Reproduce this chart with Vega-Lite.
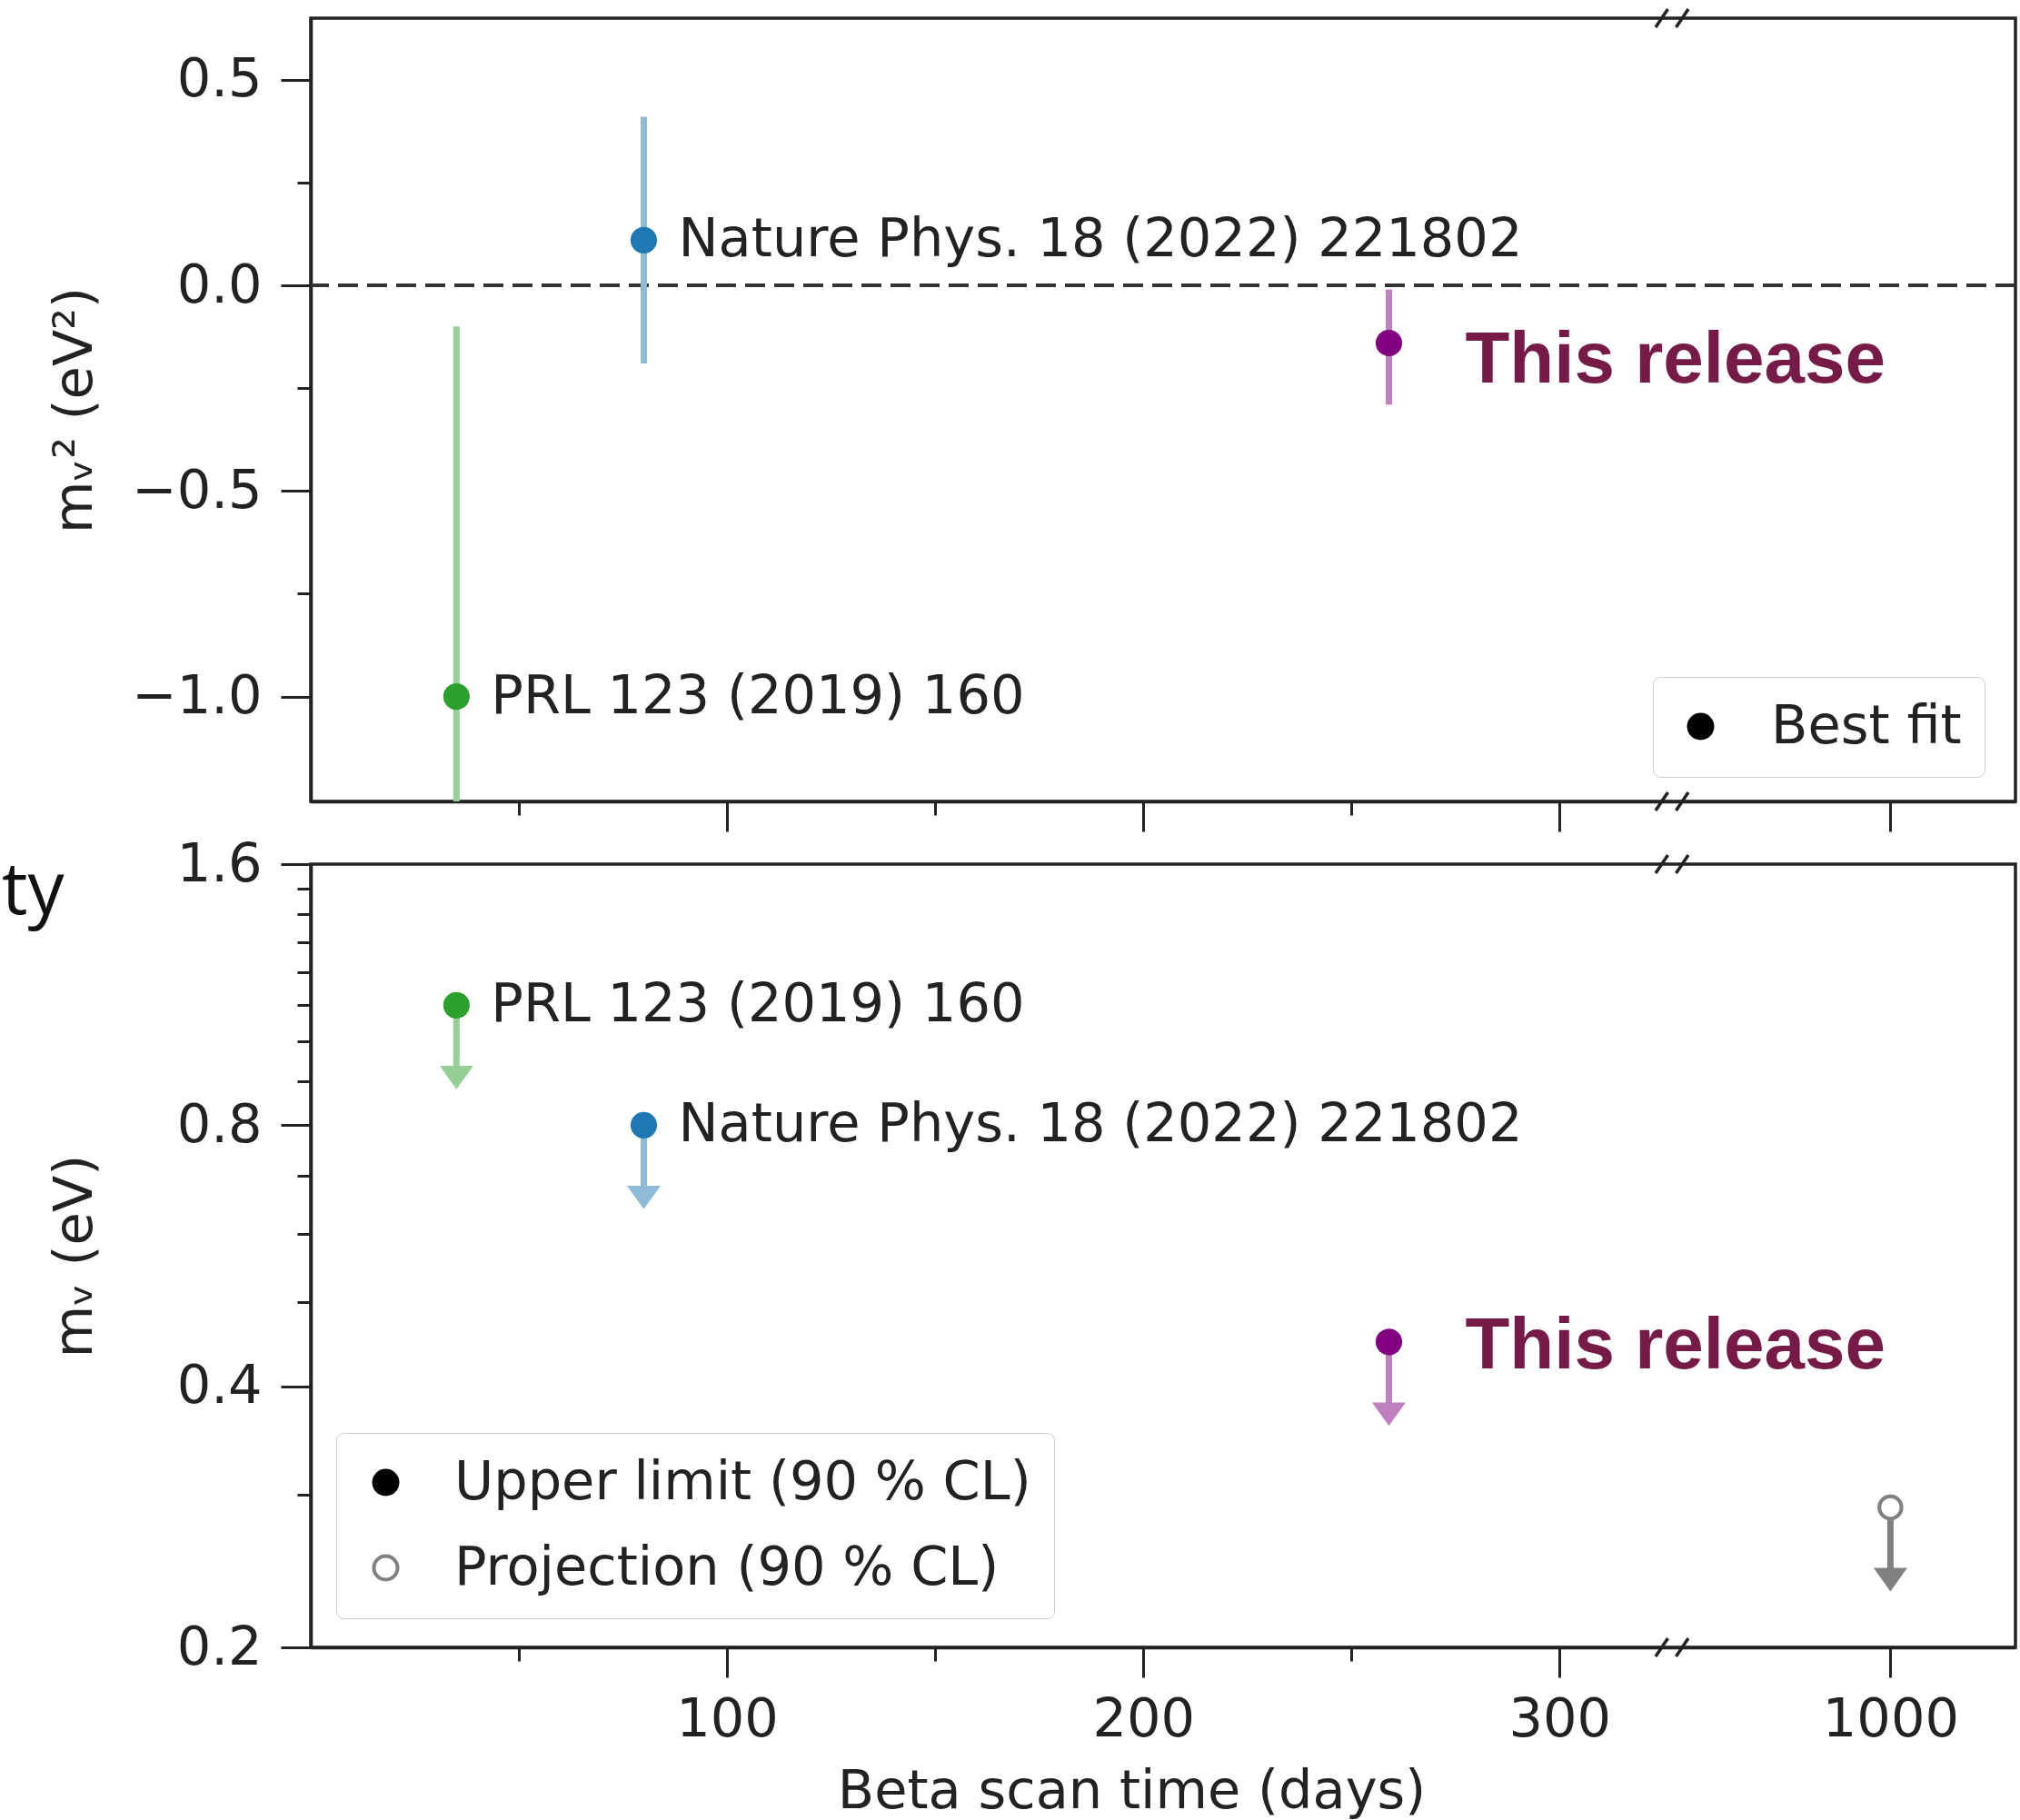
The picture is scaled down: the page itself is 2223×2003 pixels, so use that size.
{
  "$schema": "https://vega.github.io/schema/vega-lite/v6.json",
  "background": "white",
  "padding": {"left": 0, "top": 1, "right": 0, "bottom": 0},
  "bounds": "flush",
  "spacing": 69,
  "config": {
    "view": {"stroke": "#222222", "strokeWidth": 3.5},
    "font": "DejaVu Sans",
    "axis": {
      "grid": false,
      "domainColor": "#222222",
      "domainWidth": 3.5,
      "tickColor": "#222222",
      "tickWidth": 3,
      "labelFont": "DejaVu Sans",
      "labelFontSize": 59,
      "labelColor": "#222222",
      "labelOverlap": false,
      "labelFlush": false,
      "titleFont": "DejaVu Sans",
      "titleFontSize": 59,
      "titleFontWeight": "normal",
      "titleColor": "#222222"
    }
  },
  "datasets": {
    "best": [
      {"result": "PRL 123 (2019) 160", "days": 35, "m2": -1.0, "low": -2.1, "high": -0.1},
      {"result": "Nature Phys. 18 (2022) 221802", "days": 80, "m2": 0.11, "low": -0.19, "high": 0.41},
      {"result": "This release", "days": 259, "m2": -0.14, "low": -0.29, "high": -0.01}
    ],
    "limits": [
      {"result": "PRL 123 (2019) 160", "days": 35, "mnu": 1.1, "arrow": 0.88},
      {"result": "Nature Phys. 18 (2022) 221802", "days": 80, "mnu": 0.8, "arrow": 0.64},
      {"result": "This release", "days": 259, "mnu": 0.45, "arrow": 0.36}
    ],
    "projection": [
      {"result": "Projection", "days": 1000, "mnu": 0.29, "arrow": 0.232}
    ]
  },
  "resolve": {
    "scale": {"x": "independent", "y": "independent", "shape": "independent", "color": "independent", "fill": "independent", "stroke": "independent"},
    "legend": {"shape": "independent", "fill": "independent", "stroke": "independent"}
  },
  "vconcat": [
    {
      "width": 1876,
      "height": 862,
      "data": {"name": "best"},
      "layer": [
        {
          "data": {"values": [{}]},
          "mark": {"type": "rule", "strokeDash": [22, 10], "strokeWidth": 4, "color": "#333333"},
          "encoding": {
            "y": {"datum": 0, "type": "quantitative", "scale": {"domain": [-1.255, 0.65], "nice": false, "zero": false}}
          }
        },
        {
          "mark": {"type": "rule", "strokeWidth": 7, "clip": true},
          "encoding": {
            "x": {"field": "days", "type": "quantitative",
              "scale": {"domain": [0, 327, 947.6, 1030], "range": [0, 1498, 1498, 1876], "nice": false, "zero": false},
              "axis": {"values": [50, 100, 150, 200, 250, 300, 1000], "labels": false, "title": null,
                "tickSize": {"condition": {"test": "datum.value % 100 === 0", "value": 33}, "value": 15}}},
            "y": {"field": "low", "type": "quantitative",
              "scale": {"domain": [-1.255, 0.65], "nice": false, "zero": false},
              "axis": {"values": [-1, -0.75, -0.5, -0.25, 0, 0.25, 0.5],
                "labelExpr": "abs(datum.value*2 - round(datum.value*2)) < 0.001 ? replace(format(datum.value, '.1f'), '-', '−') : ''",
                "tickSize": {"condition": {"test": "abs(datum.value*2 - round(datum.value*2)) < 0.001", "value": 33}, "value": 15},
                "labelPadding": 21,
                "title": "mᵥ² (eV²)", "titleX": -230, "titleY": 431, "titleAngle": 270, "titleBaseline": "bottom", "titleAlign": "center"}},
            "y2": {"field": "high"},
            "stroke": {"field": "result", "type": "nominal",
              "scale": {"domain": ["PRL 123 (2019) 160", "Nature Phys. 18 (2022) 221802", "This release"], "range": ["#95cf95", "#8fbbd9", "#bf80bf"]},
              "legend": null}
          }
        },
        {
          "mark": {"type": "point", "filled": true, "size": 850, "opacity": 1},
          "encoding": {
            "x": {"field": "days", "type": "quantitative", "scale": {"domain": [0, 327, 947.6, 1030], "range": [0, 1498, 1498, 1876], "nice": false, "zero": false}},
            "y": {"field": "m2", "type": "quantitative", "scale": {"domain": [-1.255, 0.65], "nice": false, "zero": false}},
            "fill": {"field": "result", "type": "nominal",
              "scale": {"domain": ["PRL 123 (2019) 160", "Nature Phys. 18 (2022) 221802", "This release"], "range": ["#2ca02c", "#1f77b4", "#800080"]},
              "legend": null},
            "shape": {"datum": "Best fit", "type": "nominal",
              "scale": {"domain": ["Best fit"], "range": ["circle"]},
              "legend": {
                "orient": "none", "legendX": 1477, "legendY": 725, "title": null,
                "padding": 25, "fillColor": "rgba(255,255,255,0.85)", "strokeColor": "#cccccc", "cornerRadius": 8,
                "symbolSize": 900, "symbolType": "circle", "symbolOffset": -2, "symbolFillColor": "black", "symbolStrokeWidth": 0,
                "labelFontSize": 59, "labelFont": "DejaVu Sans", "labelColor": "#222222", "labelOffset": 48, "labelLimit": 1000,
                "encode": {
                  "symbols": {"fill": {"value": "black"}, "stroke": {"value": "black"}, "strokeWidth": {"value": 0}, "opacity": {"value": 1}},
                  "legend": {"strokeWidth": {"value": 2.5}}
                }
              }}
          }
        },
        {
          "transform": [{"filter": "datum.result !== 'This release'"}],
          "mark": {"type": "text", "align": "left", "baseline": "middle", "dx": 38, "fontSize": 59, "font": "DejaVu Sans", "color": "#222222"},
          "encoding": {
            "x": {"field": "days", "type": "quantitative", "scale": {"domain": [0, 327, 947.6, 1030], "range": [0, 1498, 1498, 1876], "nice": false, "zero": false}},
            "y": {"field": "m2", "type": "quantitative", "scale": {"domain": [-1.255, 0.65], "nice": false, "zero": false}},
            "text": {"field": "result"}
          }
        },
        {
          "transform": [{"filter": "datum.result === 'This release'"}],
          "mark": {"type": "text", "align": "left", "baseline": "alphabetic", "dx": 84, "dy": 44, "fontSize": 80, "font": "Liberation Sans", "fontWeight": "bold", "color": "#761a47"},
          "encoding": {
            "x": {"field": "days", "type": "quantitative", "scale": {"domain": [0, 327, 947.6, 1030], "range": [0, 1498, 1498, 1876], "nice": false, "zero": false}},
            "y": {"field": "m2", "type": "quantitative", "scale": {"domain": [-1.255, 0.65], "nice": false, "zero": false}},
            "text": {"field": "result"}
          }
        },
        {
          "data": {"values": [{}]},
          "mark": {"type": "point", "shape": "M-1,0.55L-0.25,-0.55M0.25,0.55L1,-0.55", "filled": false, "color": "#222222", "strokeWidth": 3.5, "size": 1296, "opacity": 1},
          "encoding": {
            "x": {"datum": 327, "type": "quantitative", "scale": {"domain": [0, 327, 947.6, 1030], "range": [0, 1498, 1498, 1876], "nice": false, "zero": false}},
            "y": {"datum": 0.65, "type": "quantitative", "scale": {"domain": [-1.255, 0.65], "nice": false, "zero": false}}
          }
        },
        {
          "data": {"values": [{}]},
          "mark": {"type": "point", "shape": "M-1,0.55L-0.25,-0.55M0.25,0.55L1,-0.55", "filled": false, "color": "#222222", "strokeWidth": 3.5, "size": 1296, "opacity": 1},
          "encoding": {
            "x": {"datum": 327, "type": "quantitative", "scale": {"domain": [0, 327, 947.6, 1030], "range": [0, 1498, 1498, 1876], "nice": false, "zero": false}},
            "y": {"datum": -1.255, "type": "quantitative", "scale": {"domain": [-1.255, 0.65], "nice": false, "zero": false}}
          }
        }
      ]
    },
    {
      "width": 1876,
      "height": 862,
      "data": {"name": "limits"},
      "layer": [
        {
          "mark": {"type": "rule", "strokeWidth": 7, "y2Offset": -12},
          "encoding": {
            "x": {"field": "days", "type": "quantitative",
              "scale": {"domain": [0, 327, 947.6, 1030], "range": [0, 1498, 1498, 1876], "nice": false, "zero": false},
              "axis": {"values": [50, 100, 150, 200, 250, 300, 1000], "format": "d",
                "labelExpr": "datum.value % 100 === 0 ? datum.label : ''",
                "labelPadding": 17,
                "tickSize": {"condition": {"test": "datum.value % 100 === 0", "value": 33}, "value": 15},
                "title": "Beta scan time (days)", "titleX": 903, "titleY": 176, "titleBaseline": "alphabetic", "titleAlign": "center"}},
            "y": {"field": "mnu", "type": "quantitative",
              "scale": {"type": "log", "domain": [0.2, 1.6], "nice": false},
              "axis": {"values": [0.2, 0.3, 0.4, 0.5, 0.6, 0.7, 0.8, 0.9, 1.0, 1.1, 1.2, 1.3, 1.4, 1.5, 1.6],
                "labelExpr": "indexof([0.2, 0.4, 0.8, 1.6], datum.value) >= 0 ? format(datum.value, '.1f') : ''",
                "tickSize": {"condition": {"test": "indexof([0.2, 0.4, 0.8, 1.6], datum.value) >= 0", "value": 33}, "value": 15},
                "labelPadding": 21,
                "title": "mᵥ (eV)", "titleX": -230, "titleY": 431, "titleAngle": 270, "titleBaseline": "bottom", "titleAlign": "center"}},
            "y2": {"field": "arrow"},
            "color": {"field": "result", "type": "nominal",
              "scale": {"domain": ["PRL 123 (2019) 160", "Nature Phys. 18 (2022) 221802", "This release"], "range": ["#95cf95", "#8fbbd9", "#bf80bf"]},
              "legend": null}
          }
        },
        {
          "mark": {"type": "point", "shape": "M-1,-1.4L1,-1.4L0,0Z", "filled": true, "size": 1369, "opacity": 1},
          "encoding": {
            "x": {"field": "days", "type": "quantitative", "scale": {"domain": [0, 327, 947.6, 1030], "range": [0, 1498, 1498, 1876], "nice": false, "zero": false}},
            "y": {"field": "arrow", "type": "quantitative", "scale": {"type": "log", "domain": [0.2, 1.6], "nice": false}},
            "color": {"field": "result", "type": "nominal",
              "scale": {"domain": ["PRL 123 (2019) 160", "Nature Phys. 18 (2022) 221802", "This release"], "range": ["#95cf95", "#8fbbd9", "#bf80bf"]},
              "legend": null}
          }
        },
        {
          "transform": [{"filter": "datum.result === 'PRL 123 (2019) 160'"}],
          "mark": {"type": "point", "filled": true, "size": 850, "opacity": 1, "color": "#2ca02c"},
          "encoding": {
            "x": {"field": "days", "type": "quantitative", "scale": {"domain": [0, 327, 947.6, 1030], "range": [0, 1498, 1498, 1876], "nice": false, "zero": false}},
            "y": {"field": "mnu", "type": "quantitative", "scale": {"type": "log", "domain": [0.2, 1.6], "nice": false}}
          }
        },
        {
          "transform": [{"filter": "datum.result === 'Nature Phys. 18 (2022) 221802'"}],
          "mark": {"type": "point", "filled": true, "size": 850, "opacity": 1, "color": "#1f77b4"},
          "encoding": {
            "x": {"field": "days", "type": "quantitative", "scale": {"domain": [0, 327, 947.6, 1030], "range": [0, 1498, 1498, 1876], "nice": false, "zero": false}},
            "y": {"field": "mnu", "type": "quantitative", "scale": {"type": "log", "domain": [0.2, 1.6], "nice": false}}
          }
        },
        {
          "transform": [{"filter": "datum.result === 'This release'"}],
          "mark": {"type": "point", "filled": true, "size": 850, "opacity": 1, "color": "#800080"},
          "encoding": {
            "x": {"field": "days", "type": "quantitative", "scale": {"domain": [0, 327, 947.6, 1030], "range": [0, 1498, 1498, 1876], "nice": false, "zero": false}},
            "y": {"field": "mnu", "type": "quantitative", "scale": {"type": "log", "domain": [0.2, 1.6], "nice": false}}
          }
        },
        {
          "data": {"values": []},
          "mark": {"type": "point", "filled": true, "size": 676, "strokeWidth": 4, "opacity": 1},
          "encoding": {
            "fill": {"datum": "Upper limit (90 % CL)", "type": "nominal",
              "scale": {"domain": ["Upper limit (90 % CL)", "Projection (90 % CL)"], "range": ["black", "white"]},
              "legend": {
                "orient": "none", "legendX": 28, "legendY": 626, "title": null,
                "padding": 25, "rowPadding": 34, "fillColor": "rgba(255,255,255,0.85)", "strokeColor": "#cccccc", "cornerRadius": 8,
                "symbolSize": 676, "symbolStrokeWidth": 4, "symbolType": "circle", "symbolOffset": 0,
                "labelFontSize": 59, "labelFont": "DejaVu Sans", "labelColor": "#222222", "labelOffset": 46, "labelLimit": 1000,
                "encode": {"legend": {"strokeWidth": {"value": 2.5}}}
              }},
            "stroke": {"datum": "Upper limit (90 % CL)", "type": "nominal",
              "scale": {"domain": ["Upper limit (90 % CL)", "Projection (90 % CL)"], "range": ["black", "#808080"]},
              "legend": {
                "orient": "none", "legendX": 28, "legendY": 626, "title": null,
                "padding": 25, "rowPadding": 34, "fillColor": "rgba(255,255,255,0.85)", "strokeColor": "#cccccc", "cornerRadius": 8,
                "symbolSize": 676, "symbolStrokeWidth": 4, "symbolType": "circle", "symbolOffset": 0,
                "labelFontSize": 59, "labelFont": "DejaVu Sans", "labelColor": "#222222", "labelOffset": 46, "labelLimit": 1000,
                "encode": {"legend": {"strokeWidth": {"value": 2.5}}}
              }}
          }
        },
        {
          "data": {"name": "projection"},
          "mark": {"type": "rule", "strokeWidth": 7, "color": "#808080", "y2Offset": -12},
          "encoding": {
            "x": {"field": "days", "type": "quantitative", "scale": {"domain": [0, 327, 947.6, 1030], "range": [0, 1498, 1498, 1876], "nice": false, "zero": false}},
            "y": {"field": "mnu", "type": "quantitative", "scale": {"type": "log", "domain": [0.2, 1.6], "nice": false}},
            "y2": {"field": "arrow"}
          }
        },
        {
          "data": {"name": "projection"},
          "mark": {"type": "point", "shape": "M-1,-1.4L1,-1.4L0,0Z", "filled": true, "color": "#808080", "size": 1369, "opacity": 1},
          "encoding": {
            "x": {"field": "days", "type": "quantitative", "scale": {"domain": [0, 327, 947.6, 1030], "range": [0, 1498, 1498, 1876], "nice": false, "zero": false}},
            "y": {"field": "arrow", "type": "quantitative", "scale": {"type": "log", "domain": [0.2, 1.6], "nice": false}}
          }
        },
        {
          "data": {"name": "projection"},
          "mark": {"type": "point", "filled": true, "strokeWidth": 4, "size": 600, "opacity": 1},
          "encoding": {
            "x": {"field": "days", "type": "quantitative", "scale": {"domain": [0, 327, 947.6, 1030], "range": [0, 1498, 1498, 1876], "nice": false, "zero": false}},
            "y": {"field": "mnu", "type": "quantitative", "scale": {"type": "log", "domain": [0.2, 1.6], "nice": false}},
            "fill": {"datum": "Projection (90 % CL)", "type": "nominal",
              "scale": {"domain": ["Upper limit (90 % CL)", "Projection (90 % CL)"], "range": ["black", "white"]}},
            "stroke": {"datum": "Projection (90 % CL)", "type": "nominal",
              "scale": {"domain": ["Upper limit (90 % CL)", "Projection (90 % CL)"], "range": ["black", "#808080"]}}
          }
        },
        {
          "transform": [{"filter": "datum.result !== 'This release'"}],
          "mark": {"type": "text", "align": "left", "baseline": "middle", "dx": 38, "fontSize": 59, "font": "DejaVu Sans", "color": "#222222"},
          "encoding": {
            "x": {"field": "days", "type": "quantitative", "scale": {"domain": [0, 327, 947.6, 1030], "range": [0, 1498, 1498, 1876], "nice": false, "zero": false}},
            "y": {"field": "mnu", "type": "quantitative", "scale": {"type": "log", "domain": [0.2, 1.6], "nice": false}},
            "text": {"field": "result"}
          }
        },
        {
          "transform": [{"filter": "datum.result === 'This release'"}],
          "mark": {"type": "text", "align": "left", "baseline": "alphabetic", "dx": 84, "dy": 29, "fontSize": 80, "font": "Liberation Sans", "fontWeight": "bold", "color": "#761a47"},
          "encoding": {
            "x": {"field": "days", "type": "quantitative", "scale": {"domain": [0, 327, 947.6, 1030], "range": [0, 1498, 1498, 1876], "nice": false, "zero": false}},
            "y": {"field": "mnu", "type": "quantitative", "scale": {"type": "log", "domain": [0.2, 1.6], "nice": false}},
            "text": {"field": "result"}
          }
        },
        {
          "data": {"values": [{}]},
          "mark": {"type": "point", "shape": "M-1,0.55L-0.25,-0.55M0.25,0.55L1,-0.55", "filled": false, "color": "#222222", "strokeWidth": 3.5, "size": 1296, "opacity": 1},
          "encoding": {
            "x": {"datum": 327, "type": "quantitative", "scale": {"domain": [0, 327, 947.6, 1030], "range": [0, 1498, 1498, 1876], "nice": false, "zero": false}},
            "y": {"datum": 1.6, "type": "quantitative", "scale": {"type": "log", "domain": [0.2, 1.6], "nice": false}}
          }
        },
        {
          "data": {"values": [{}]},
          "mark": {"type": "point", "shape": "M-1,0.55L-0.25,-0.55M0.25,0.55L1,-0.55", "filled": false, "color": "#222222", "strokeWidth": 3.5, "size": 1296, "opacity": 1},
          "encoding": {
            "x": {"datum": 327, "type": "quantitative", "scale": {"domain": [0, 327, 947.6, 1030], "range": [0, 1498, 1498, 1876], "nice": false, "zero": false}},
            "y": {"datum": 0.2, "type": "quantitative", "scale": {"type": "log", "domain": [0.2, 1.6], "nice": false}}
          }
        },
        {
          "data": {"values": [{}]},
          "mark": {"type": "text", "text": "ty", "align": "left", "baseline": "alphabetic", "fontSize": 80, "font": "Open Sans", "color": "#111111"},
          "encoding": {
            "x": {"datum": -74.2, "type": "quantitative", "scale": {"domain": [0, 327, 947.6, 1030], "range": [0, 1498, 1498, 1876], "nice": false, "zero": false}},
            "y": {"datum": 1.4, "type": "quantitative", "scale": {"type": "log", "domain": [0.2, 1.6], "nice": false}}
          }
        }
      ]
    }
  ]
}
